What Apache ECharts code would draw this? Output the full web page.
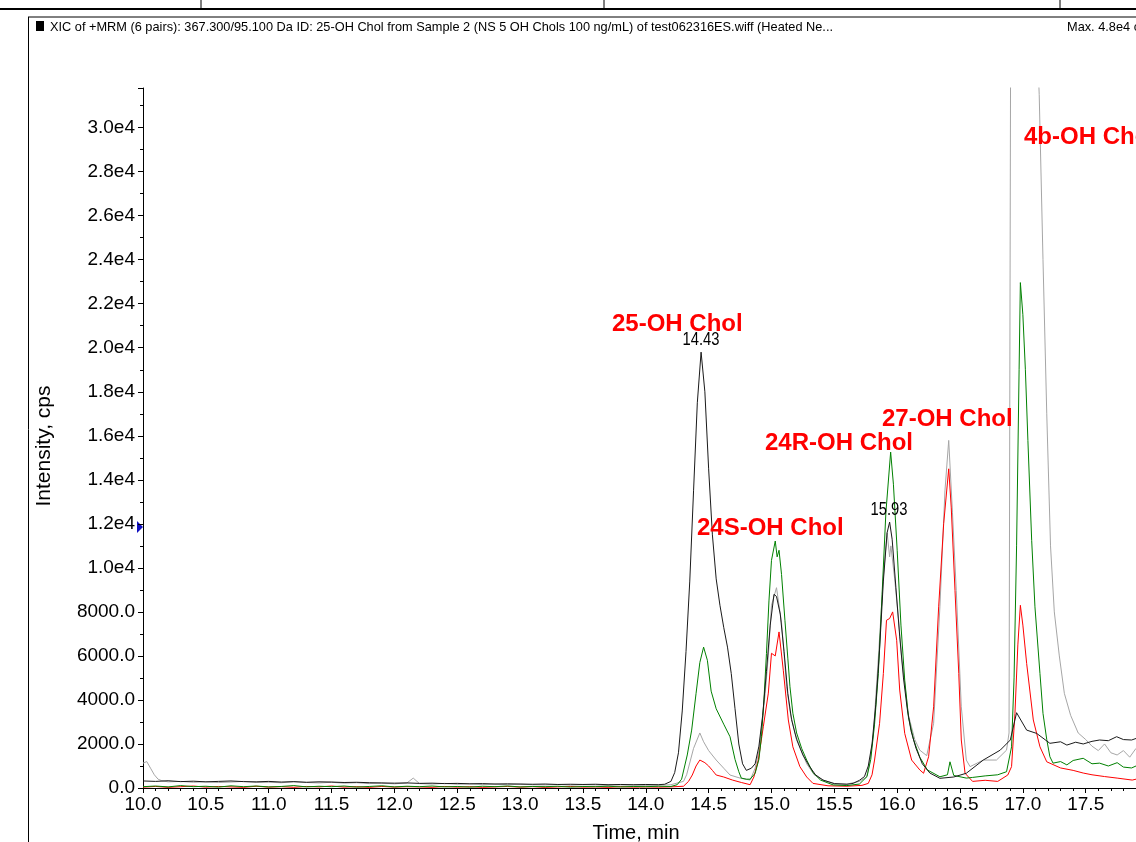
<!DOCTYPE html>
<html><head><meta charset="utf-8">
<script src="https://cdn.jsdelivr.net/npm/echarts@6/dist/echarts.min.js"></script>
<style>html,body{margin:0;padding:0;background:#fff}#c{width:1136px;height:842px}</style>
</head><body><div id="c"></div>
<script>
// ---- data: [time (min), intensity (cps)] ----
const blackTrace = [[10.0,320],[10.1,300],[10.2,330],[10.3,290],[10.4,310],[10.5,280],[10.6,300],[10.7,320],[10.8,290],[10.9,280],[11.0,300],[11.1,270],[11.2,290],[11.3,260],[11.4,280],[11.5,270],[11.6,250],[11.7,260],[11.8,240],[11.9,230],[12.0,220],[12.1,230],[12.2,210],[12.3,220],[12.4,200],[12.5,210],[12.6,190],[12.7,200],[12.8,180],[12.9,190],[13.0,180],[13.1,170],[13.2,180],[13.3,160],[13.4,170],[13.5,160],[13.6,170],[13.7,150],[13.8,160],[13.9,150],[14.0,160],[14.1,150],[14.15,170],[14.2,300],[14.23,700],[14.26,1600],[14.29,3500],[14.32,6200],[14.35,9400],[14.38,13500],[14.41,17500],[14.44,19800],[14.47,18000],[14.5,14500],[14.53,11500],[14.56,9500],[14.59,8300],[14.62,7300],[14.65,6400],[14.68,5200],[14.71,3600],[14.74,2000],[14.77,1100],[14.80,800],[14.84,900],[14.87,1100],[14.9,1900],[14.93,3300],[14.96,5300],[14.99,7400],[15.02,8800],[15.04,8700],[15.07,7900],[15.1,6200],[15.13,4300],[15.16,3100],[15.2,2200],[15.25,1500],[15.3,1000],[15.35,600],[15.41,360],[15.5,200],[15.6,170],[15.65,210],[15.7,350],[15.74,520],[15.77,1000],[15.8,2000],[15.83,3800],[15.86,6300],[15.89,9400],[15.92,11600],[15.94,12080],[15.96,11300],[15.99,9100],[16.02,6900],[16.05,5000],[16.08,3600],[16.11,2600],[16.15,1800],[16.2,1100],[16.26,680],[16.34,440],[16.45,500],[16.55,670],[16.685,1270],[16.82,1720],[16.9,2180],[16.95,3420],[17.03,2630],[17.11,2480],[17.215,2030],[17.3,2100],[17.35,1950],[17.42,2080],[17.48,2000],[17.55,2120],[17.61,2180],[17.68,2150],[17.746,2330],[17.8,2200],[17.865,2180],[17.9,2250]];

const greenTrace = [[10.0,60],[10.1,90],[10.2,50],[10.3,110],[10.4,60],[10.5,80],[10.6,40],[10.7,100],[10.8,60],[10.9,90],[11.0,50],[11.1,70],[11.2,110],[11.3,50],[11.4,80],[11.5,60],[11.6,90],[11.7,40],[11.8,70],[11.9,100],[12.0,50],[12.1,80],[12.2,60],[12.3,90],[12.4,50],[12.5,70],[12.6,40],[12.7,80],[12.8,60],[12.9,90],[13.0,50],[13.1,70],[13.2,60],[13.3,80],[13.4,40],[13.5,70],[13.6,60],[13.7,80],[13.8,50],[13.9,70],[14.0,60],[14.1,80],[14.2,70],[14.25,150],[14.285,400],[14.33,1500],[14.365,2630],[14.4,4300],[14.43,5700],[14.46,6400],[14.49,5800],[14.52,4400],[14.56,3600],[14.62,2900],[14.67,2330],[14.71,1300],[14.74,740],[14.76,450],[14.80,400],[14.83,400],[14.87,670],[14.9,1300],[14.92,2330],[14.94,4000],[14.96,6110],[14.98,8500],[15.0,10340],[15.03,11220],[15.045,10500],[15.06,10800],[15.08,9700],[15.107,7620],[15.13,5900],[15.147,4600],[15.17,3400],[15.2,2500],[15.24,1800],[15.28,1270],[15.33,700],[15.39,360],[15.49,140],[15.6,110],[15.7,180],[15.76,520],[15.79,1300],[15.82,2900],[15.85,5200],[15.88,8800],[15.91,12500],[15.948,15260],[15.97,13800],[16.0,10800],[16.03,7400],[16.06,4900],[16.09,3200],[16.13,2200],[16.18,1400],[16.24,820],[16.34,510],[16.40,600],[16.42,1190],[16.45,570],[16.55,450],[16.6,480],[16.7,550],[16.8,600],[16.87,740],[16.91,1870],[16.93,5000],[16.95,11000],[16.97,19000],[16.98,22960],[17.0,21500],[17.02,19000],[17.04,15790],[17.07,11250],[17.096,8230],[17.136,5200],[17.16,3390],[17.19,2200],[17.215,1420],[17.24,1130],[17.3,1200],[17.35,1050],[17.4,1250],[17.48,1350],[17.55,1100],[17.61,1130],[17.68,1000],[17.75,1150],[17.8,950],[17.865,910],[17.9,1000]];

const redTrace = [[10.0,40],[10.1,70],[10.2,30],[10.3,60],[10.4,90],[10.5,40],[10.6,70],[10.7,50],[10.8,30],[10.9,80],[11.0,40],[11.1,60],[11.2,30],[11.3,70],[11.4,50],[11.5,90],[11.6,40],[11.7,60],[11.8,30],[11.9,70],[12.0,40],[12.1,60],[12.2,50],[12.3,30],[12.4,70],[12.5,40],[12.6,60],[12.7,30],[12.8,50],[12.9,70],[13.0,40],[13.1,60],[13.2,30],[13.3,50],[13.4,70],[13.5,40],[13.6,50],[13.7,30],[13.8,60],[13.9,40],[14.0,50],[14.1,40],[14.2,50],[14.3,80],[14.34,300],[14.37,590],[14.4,1000],[14.43,1270],[14.47,1150],[14.5,1000],[14.53,800],[14.56,590],[14.62,500],[14.69,360],[14.76,250],[14.83,150],[14.86,500],[14.895,1270],[14.935,2780],[14.975,4310],[15.0,6120],[15.03,6000],[15.06,7090],[15.094,5350],[15.134,3090],[15.17,1870],[15.226,970],[15.28,500],[15.33,210],[15.45,100],[15.6,80],[15.72,120],[15.77,210],[15.8,600],[15.82,1270],[15.86,2940],[15.89,5200],[15.915,7620],[15.94,7700],[15.964,8000],[15.996,6710],[16.02,4450],[16.06,2480],[16.115,1270],[16.18,820],[16.21,670],[16.25,1420],[16.29,3690],[16.33,8230],[16.37,12010],[16.41,14500],[16.43,12760],[16.46,8980],[16.49,5200],[16.51,2180],[16.54,670],[16.6,300],[16.7,350],[16.8,300],[16.88,590],[16.91,970],[16.937,3390],[16.96,6500],[16.98,8300],[17.0,7400],[17.03,5660],[17.083,3090],[17.136,1870],[17.19,1190],[17.3,910],[17.4,800],[17.48,680],[17.55,600],[17.65,520],[17.75,450],[17.87,360],[17.9,400]];

const greyTrace = [[10.0,1130],[10.03,1200],[10.06,900],[10.09,600],[10.12,400],[10.15,330],[10.2,280],[10.3,300],[10.4,260],[10.5,280],[10.6,250],[10.7,270],[10.8,300],[10.9,250],[11.0,260],[11.1,240],[11.2,280],[11.3,250],[11.4,230],[11.5,260],[11.6,220],[11.7,240],[11.8,200],[11.9,220],[12.0,190],[12.1,230],[12.15,450],[12.2,200],[12.3,180],[12.4,210],[12.5,170],[12.6,190],[12.7,160],[12.8,180],[12.9,150],[13.0,170],[13.1,150],[13.2,140],[13.3,160],[13.4,130],[13.5,150],[13.6,140],[13.7,120],[13.8,140],[13.9,130],[14.0,120],[14.1,130],[14.2,150],[14.3,300],[14.325,600],[14.38,1800],[14.43,2500],[14.46,2100],[14.5,1700],[14.56,1270],[14.62,900],[14.67,590],[14.75,450],[14.83,360],[14.87,900],[14.9,1700],[14.92,2700],[14.95,4300],[14.975,6000],[15.0,8300],[15.04,9100],[15.08,7500],[15.1,6100],[15.12,4600],[15.15,3400],[15.187,2500],[15.23,1800],[15.28,1100],[15.34,600],[15.41,360],[15.5,200],[15.6,180],[15.7,300],[15.757,500],[15.78,1100],[15.81,2400],[15.85,5900],[15.89,9600],[15.92,11600],[15.94,10500],[15.95,11000],[15.98,9500],[16.01,7700],[16.036,5900],[16.09,3300],[16.14,2200],[16.18,1720],[16.235,1470],[16.29,2940],[16.34,8230],[16.38,13500],[16.41,15790],[16.44,12500],[16.47,8980],[16.51,3690],[16.55,1270],[16.58,970],[16.685,1270],[16.79,1270],[16.87,1720],[16.89,2500],[16.905,40000],[16.93,42000],[16.97,46000],[17.01,48000],[17.06,42000],[17.13,31500],[17.16,24000],[17.19,17000],[17.22,11000],[17.25,8000],[17.29,6000],[17.33,4300],[17.38,3300],[17.44,2500],[17.5,2200],[17.55,1900],[17.6,1700],[17.65,2000],[17.7,1600],[17.75,1500],[17.8,1700],[17.85,1400],[17.9,1800]];

const peakLabels = ['25-OH Chol','24S-OH Chol','24R-OH Chol','27-OH Chol','4b-OH Chol'];
const rtLabels = ['14.43','15.93'];
const headerText = 'XIC of +MRM (6 pairs): 367.300/95.100 Da ID: 25-OH Chol from Sample 2 (NS 5 OH Chols 100 ng/mL) of test062316ES.wiff (Heated Ne...';
const maxText = 'Max. 4.8e4 cps';

const chart = echarts.init(document.getElementById('c'), null, {renderer:'canvas'});
const FONT = '"Liberation Sans", Arial, sans-serif';

function fmtY(v){ if (v >= 10000) return (v/10000).toFixed(1)+'e4'; return v.toFixed(1); }

// measure header text width to fit the narrow font
const cv = document.createElement('canvas').getContext('2d');
cv.font = '13px ' + FONT;
const hw = cv.measureText(headerText).width;
const hScale = 783 / hw;

function line(data, color, z){
  return {type:'line', data, showSymbol:false, symbol:'none', animation:false, z,
    lineStyle:{color, width:1}, itemStyle:{color}, clip:true};
}

const redLbl = (txt, x, y) => ({type:'text', x, y, style:{text:txt, font:'bold 24px '+FONT, fill:'#ff0000', align:'left', verticalAlign:'middle'}, z:100});
const rtLbl = (txt, x, y) => ({type:'text', x, y, scaleX:0.82, style:{text:txt, font:'18px '+FONT, fill:'#000', align:'center', verticalAlign:'middle'}, z:100});

chart.setOption({
  backgroundColor:'#fff',
  animation:false,
  grid:{left:143, right:0, top:88, bottom:54, containLabel:false},
  xAxis:{type:'value', min:10, max:17.9, interval:0.5,
    axisLine:{show:true, lineStyle:{color:'#000', width:1}},
    axisTick:{show:true, length:5, lineStyle:{color:'#000'}},
    minorTick:{show:true, splitNumber:5, length:3, lineStyle:{color:'#000'}},
    splitLine:{show:false},
    axisLabel:{color:'#000', fontSize:19, fontFamily:FONT, margin:7, showMaxLabel:false, formatter:v=>v.toFixed(1)}},
  yAxis:{type:'value', min:0, max:31800, interval:2000,
    axisLine:{show:true, lineStyle:{color:'#000', width:1}},
    axisTick:{show:true, length:5, lineStyle:{color:'#000'}},
    minorTick:{show:true, splitNumber:2, length:3, lineStyle:{color:'#000'}},
    splitLine:{show:false},
    axisLabel:{color:'#000', fontSize:19, fontFamily:FONT, margin:8, showMaxLabel:false, formatter:fmtY}},
  series:[
    line(greyTrace,'#a6a6a6',1),
    line(redTrace,'#ff0000',2),
    line(greenTrace,'#008000',3),
    line(blackTrace,'#1a1a1a',4)
  ],
  graphic:[
    // header frame
    {type:'rect', shape:{x:0,y:8,width:1136,height:2}, style:{fill:'#000'}},
    {type:'line', shape:{x1:201,y1:0,x2:201,y2:9}, style:{stroke:'#000',lineWidth:1}},
    {type:'line', shape:{x1:604,y1:0,x2:604,y2:9}, style:{stroke:'#000',lineWidth:1}},
    {type:'line', shape:{x1:1060,y1:0,x2:1060,y2:9}, style:{stroke:'#000',lineWidth:1}},
    {type:'line', shape:{x1:28,y1:17,x2:1136,y2:17}, style:{stroke:'#000',lineWidth:1}},
    {type:'line', shape:{x1:28.5,y1:17,x2:28.5,y2:842}, style:{stroke:'#000',lineWidth:1}},
    {type:'rect', shape:{x:36,y:21,width:8,height:10}, style:{fill:'#000'}},
    {type:'text', x:50, y:27, scaleX:hScale, style:{text:headerText, font:'13px '+FONT, fill:'#000', verticalAlign:'middle'}},
    {type:'text', x:1067, y:27, scaleX:hScale, style:{text:maxText, font:'13px '+FONT, fill:'#000', verticalAlign:'middle'}},
    // axis names
    {type:'text', x:44, y:446, rotation:Math.PI/2, style:{text:'Intensity, cps', font:'21px '+FONT, fill:'#000', align:'center', verticalAlign:'middle'}},
    {type:'text', x:636, y:833, style:{text:'Time, min', font:'20px '+FONT, fill:'#000', align:'center', verticalAlign:'middle'}},
    // threshold marker
    {type:'polygon', shape:{points:[[137,521],[143,527],[137,533]]}, style:{fill:'#1010c0'}},
    // peak annotations
    redLbl(peakLabels[0], 612, 324),
    redLbl(peakLabels[1], 697, 528),
    redLbl(peakLabels[2], 765, 443),
    redLbl(peakLabels[3], 882, 419),
    redLbl(peakLabels[4], 1024, 137),
    rtLbl(rtLabels[0], 701, 340),
    rtLbl(rtLabels[1], 889, 510)
  ]
});
</script></body></html>
